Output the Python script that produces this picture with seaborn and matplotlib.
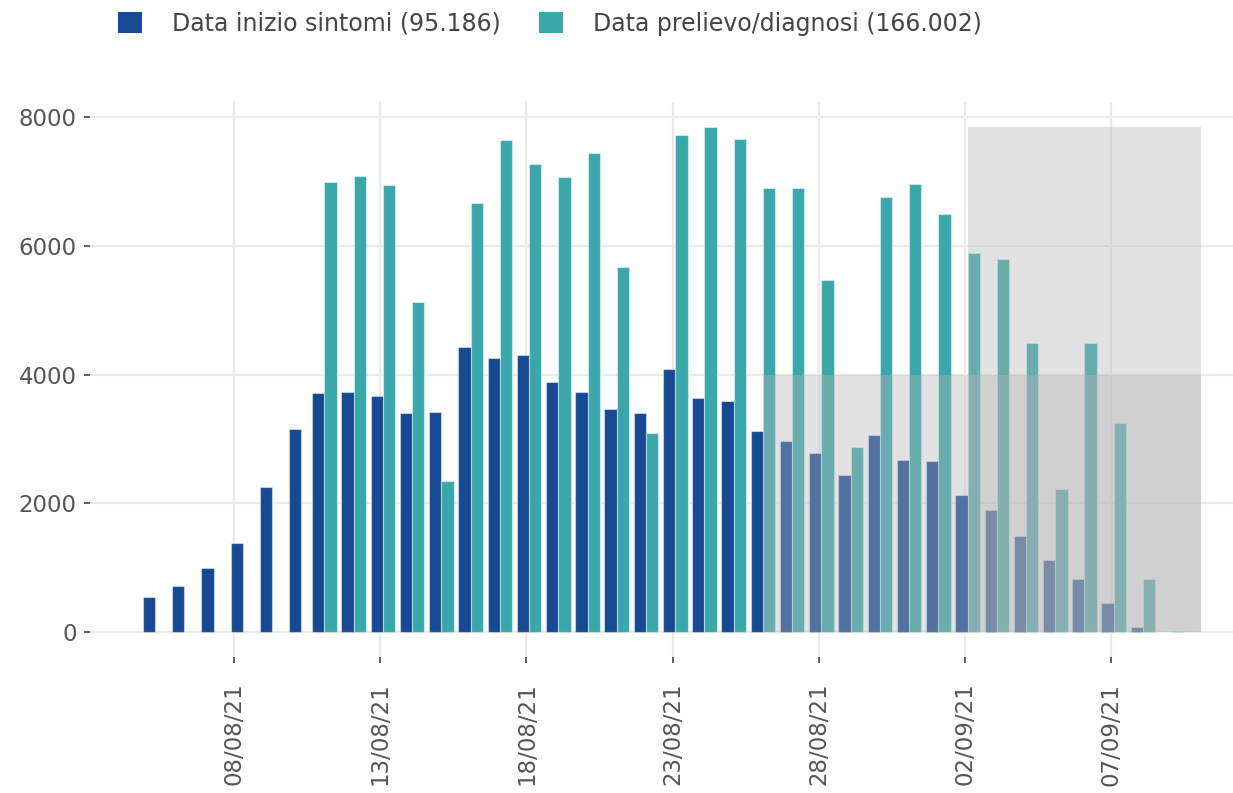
import matplotlib
matplotlib.use("Agg")
import matplotlib.pyplot as plt
from matplotlib.patches import Patch, Rectangle
import seaborn as sns
import pandas as pd

# daily cases, 05/08/21 -> 09/09/21
dates = pd.date_range("2021-08-05", "2021-09-09", freq="D")
inizio_sintomi = [545, 722, 987, 1387, 2255, 3158,
                  3708, 3730, 3665, 3409, 3419,
                  4425, 4254, 4308, 3880, 3730,
                  3462, 3409, 4088, 3639, 3596,
                  3120, 2970, 2783, 2445, 3055,
                  2676, 2649, 2124, 1889, 1493,
                  1118, 829, 444, 80, 5]
prelievo_diagnosi = [None, None, None, None, None, None,
                     6994, 7090, 6946, 5121, 2349,
                     6662, 7641, 7277, 7063, 7433,
                     5667, 3088, 7722, 7839, 7663,
                     6892, 6892, 5469, 2873, 6753,
                     6962, 6491, 5886, 5790, 4484,
                     2226, 4490, 3248, 829, 10]
series_names = ["Data inizio sintomi", "Data prelievo/diagnosi"]
legend_labels = ["Data inizio sintomi (95.186)", "Data prelievo/diagnosi (166.002)"]
colors = ["#174a92", "#3aa8aa"]

# grey boxes = data not yet consolidated
sintomi_box_from = "2021-08-26"
diagnosi_box_from = "2021-09-02"
box_until = "2021-09-10"
sintomi_box_height = 4000

sns.set_theme(style="white")
plt.rcParams["font.family"] = ["DejaVu Sans"]

df = pd.DataFrame({"day": (dates - dates[0]).days,
                   series_names[0]: inizio_sintomi,
                   series_names[1]: pd.to_numeric(pd.Series(prelievo_diagnosi))})
only_sintomi = df[df[series_names[1]].isna()]
paired = df[df[series_names[1]].notna()].melt(id_vars="day", var_name="serie", value_name="casi")

fig = plt.figure(figsize=(12.33, 7.93), dpi=100)
ax = fig.add_axes([90 / 1233, 0.1715, (1233 - 90) / 1233, 0.6999])

sns.barplot(data=only_sintomi, x="day", y=series_names[0], native_scale=True,
            color=colors[0], saturation=1, width=0.42, errorbar=None,
            edgecolor=(1, 1, 1, 0.45), linewidth=0.8, ax=ax)
sns.barplot(data=paired, x="day", y="casi", hue="serie", hue_order=series_names,
            palette=colors, saturation=1, native_scale=True, width=0.84,
            errorbar=None, legend=False, edgecolor=(1, 1, 1, 0.45), linewidth=0.8, ax=ax)

def day_of(d):
    return (pd.Timestamp(d) - dates[0]).days

end = day_of(box_until)
x0 = day_of(sintomi_box_from)
ax.add_patch(Rectangle((x0, 0), end - x0, sintomi_box_height,
                       facecolor="#b5b5b5", alpha=0.38, lw=0, zorder=5))
x0 = day_of(diagnosi_box_from)
ax.add_patch(Rectangle((x0, 0), end - x0, max(v for v in prelievo_diagnosi if v is not None),
                       facecolor="#b5b5b5", alpha=0.38, lw=0, zorder=5))

ax.set_xlim(-2.02, 37.08)
ax.set_ylim(-388, 8233)
ax.set_yticks([0, 2000, 4000, 6000, 8000])
# ticks sit a touch left of the bar centres, like the original
tick_days = df["day"].iloc[3::5] - 0.09
ax.set_xticks(tick_days)
ax.set_xticklabels(dates[3::5].strftime("%d/%m/%y"), rotation=90)
ax.set_xlabel("")
ax.set_ylabel("")

ax.grid(True, color="#ebebe6", lw=1.6)
ax.set_axisbelow(True)
sns.despine(ax=ax, left=True, bottom=True)
ax.tick_params(axis="both", labelsize=16.5, labelcolor="#555555", color="#444444",
               length=4.5, width=1.2)
ax.tick_params(axis="y", left=True, pad=5)
ax.tick_params(axis="x", bottom=True, pad=14)

handles = [Patch(facecolor=c, edgecolor="none") for c in colors]
fig.legend(handles, legend_labels, loc="upper left", bbox_to_anchor=(118 / 1233, 1 - 12 / 793),
           ncol=2, frameon=False, fontsize=17, handlelength=1.0, handleheight=1.0,
           handletextpad=1.27, columnspacing=1.65, borderpad=0, borderaxespad=0,
           labelcolor="#444444")

fig.savefig("out.png", dpi=100)
